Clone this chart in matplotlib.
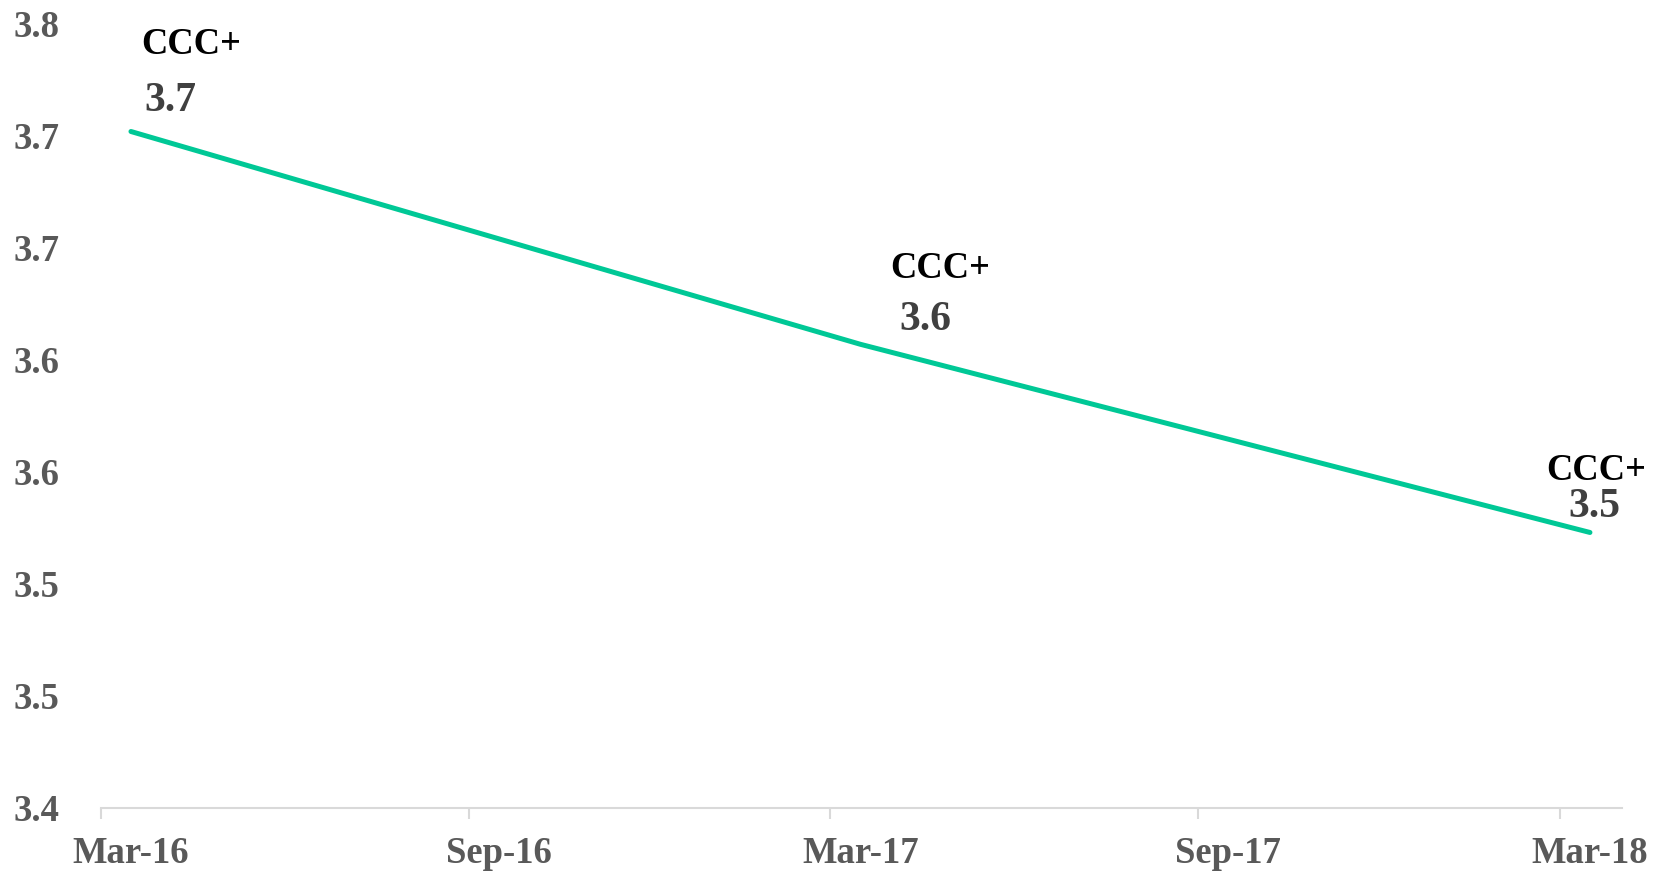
import datetime as dt
import matplotlib
matplotlib.use("Agg")
import matplotlib.pyplot as plt
import matplotlib.dates as mdates

# data
dates = [dt.date(2016, 3, 16), dt.date(2017, 3, 16), dt.date(2018, 3, 16)]
values = [3.702, 3.607, 3.523]
ratings = ["CCC+", "CCC+", "CCC+"]
value_labels = ["3.7", "3.6", "3.5"]
yticks = [3.40, 3.45, 3.50, 3.55, 3.60, 3.65, 3.70, 3.75]
ytick_labels = ["3.4", "3.5", "3.5", "3.6", "3.6", "3.7", "3.7", "3.8"]

# label offsets in pixels (value label, rating label)
val_off = [(39, 21), (65, 14), (4, 15)]
rat_off = [(60, 78), (80, 66), (6, 52)]

plt.rcParams['font.family'] = ['Liberation Serif', 'DejaVu Serif']
plt.rcParams['font.weight'] = 'bold'

fig = plt.figure(figsize=(16.69, 8.72), dpi=100)
ax = fig.add_axes([0.0605, 0.0734, 0.9718 - 0.0605, 0.9725 - 0.0734])

ax.plot(dates, values, color='#00C896', lw=3.6, solid_capstyle='round')

for i in range(len(dates)):
	ax.annotate(value_labels[i], (dates[i], values[i]), xytext=val_off[i],
		textcoords='offset pixels', ha='center', va='baseline',
		fontsize=30, fontweight='bold', color='#404040')
	ax.annotate(ratings[i], (dates[i], values[i]), xytext=rat_off[i],
		textcoords='offset pixels', ha='center', va='baseline',
		fontsize=26.3, fontweight='bold', color='black')

ax.set_xlim(dt.date(2016, 3, 1), dt.date(2018, 4, 1))
ax.set_ylim(3.40, 3.75)

ax.xaxis.set_major_locator(mdates.MonthLocator(bymonth=[3, 9]))
ax.xaxis.set_major_formatter(plt.NullFormatter())
ax.xaxis.set_minor_locator(mdates.MonthLocator(bymonth=[3, 9], bymonthday=16))
ax.xaxis.set_minor_formatter(mdates.DateFormatter('%b-%y'))
ax.tick_params(axis='x', which='major', length=8, width=1.5, color='#D9D9D9')
ax.tick_params(axis='x', which='minor', length=0, pad=20.5, labelsize=26.4, labelcolor='#595959')

ax.set_yticks(yticks)
ax.set_yticklabels(ytick_labels)
ax.tick_params(axis='y', length=0, pad=30, labelsize=26.4, labelcolor='#595959')

for s in ['top', 'right', 'left']:
	ax.spines[s].set_visible(False)
ax.spines['bottom'].set_color('#D9D9D9')
ax.spines['bottom'].set_linewidth(1.5)

fig.savefig('out.png', dpi=100)
